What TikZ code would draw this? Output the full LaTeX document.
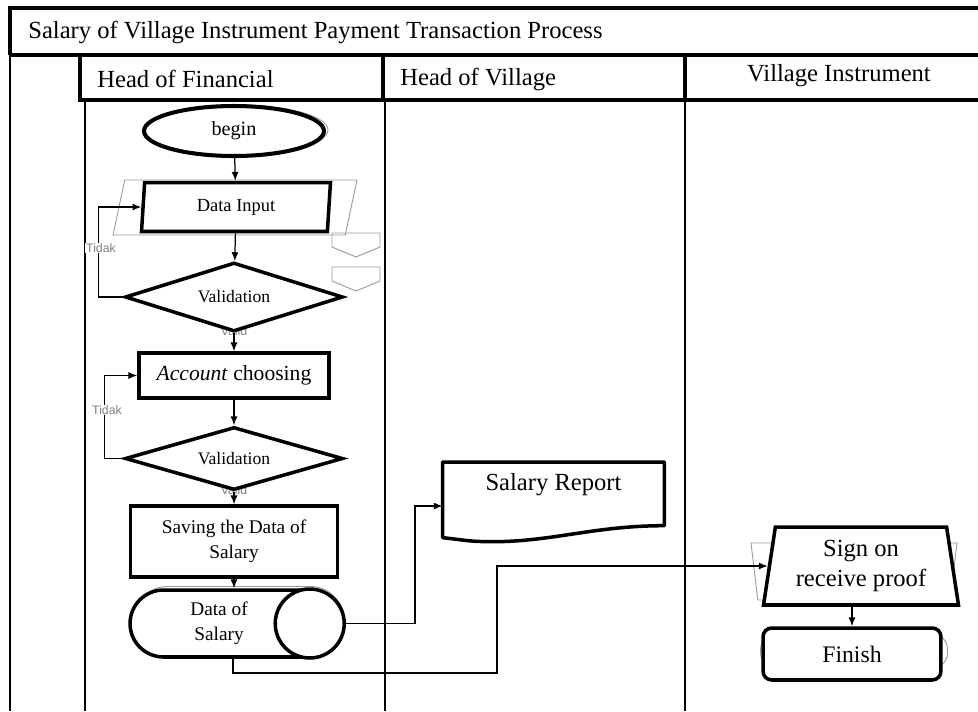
\documentclass[tikz,border=0pt]{standalone}
\usepackage{fontspec}
\setmainfont{Liberation Serif}
\newfontfamily\notefont{Liberation Sans}
\usetikzlibrary{arrows.meta}
\usetikzlibrary{positioning}
\usetikzlibrary{shapes.geometric}
\usetikzlibrary{backgrounds}
\usetikzlibrary{calc}

\begin{document}
\begin{tikzpicture}[x=0.02cm,y=-0.02cm,
  box/.style={draw,line width=2pt,fill=white,inner sep=0pt,align=center},
  ghost/.style={draw=gray!80,line width=0.5pt},
  flow/.style={line width=0.7pt,-{Latex[length=5pt,width=4pt]}},
  lane/.style={line width=0.6pt},
  frame/.style={line width=2.2pt},
  big/.style={font=\fontsize{14}{17}\selectfont},
  mid/.style={font=\fontsize{12.3}{15}\selectfont},
  small/.style={font=\fontsize{11}{14.5}\selectfont},
  note/.style={font=\notefont\fontsize{7}{8}\selectfont,text=gray,inner sep=0.5pt}]
  \clip (0,0) rectangle (978,711);

  % swimlane frame
  \draw[frame] (10,55) -- (10,8) -- (1000,8);
  \draw[frame] (10,55) -- (1000,55);
  \draw[frame] (80,55) -- (80,100) -- (1000,100);
  \draw[frame] (383,55) -- (383,100);
  \draw[frame] (685,55) -- (685,100);
  \draw[lane] (10,55) -- (10,711);
  \draw[lane] (85,100) -- (85,711);
  \draw[lane] (385,100) -- (385,711);
  \draw[lane] (685,100) -- (685,711);

  \node[big,anchor=west,inner sep=0] (title) at (28,32)
    {Salary of Village Instrument Payment Transaction Process};
  \node[big,anchor=west,inner sep=0] (h_fin) at (97,79) {Head of Financial};
  \node[big,anchor=west,inner sep=0] (h_vil) at (400,79) {Head of Village};
  \node[big,inner sep=0] (h_ins) at (839,76) {Village Instrument};

  % Head of Financial
  \node[ghost,ellipse,minimum width=3.6cm,minimum height=1cm] (begin_g) at (238,130) {};
  \node[box,ellipse,line width=2.3pt,minimum width=3.6cm,minimum height=1cm,
      font=\fontsize{11.5}{13}\selectfont] (begin) at (234,131) {begin};

  \node[ghost,trapezium,trapezium left angle=45,trapezium right angle=135,
      trapezium stretches body,minimum width=4.88cm,minimum height=1.1cm] (input_g) at (235,207.5) {};
  \node[box,trapezium,trapezium left angle=79,trapezium right angle=101,
      trapezium stretches body,minimum width=3.78cm,minimum height=0.98cm,
      font=\fontsize{10.5}{12}\selectfont] (input) at (236,207) {Data Input};

  \foreach \y in {233,267}
    \draw[ghost] (332,\y) -- (380,\y) -- (380,\y+14) -- (356,\y+24) -- (332,\y+14) -- cycle;

  \begin{scope}[on background layer]
    \node[note] (valid_1) at (234,331) {Valid};
    \node[note] (valid_2) at (234,490) {Valid};
  \end{scope}

  \node[box,diamond,aspect=3,minimum width=4.36cm,minimum height=1.38cm,
      font=\fontsize{10}{12}\selectfont] (val_1) at (234,297) {Validation};
  \node[box,rectangle,minimum width=3.8cm,minimum height=0.9cm,mid] (acct) at (234,375.5)
    {\textit{Account} choosing};
  \node[box,diamond,aspect=3,minimum width=4.36cm,minimum height=1.26cm,
      font=\fontsize{10}{12}\selectfont] (val_2) at (234,458.5) {Validation};
  \node[box,rectangle,minimum width=4.14cm,minimum height=1.42cm,small] (save) at (234,541.5)
    {Saving the Data of\\Salary};
  \node[ghost,rectangle,rounded corners=0.67cm,minimum width=4.2cm,minimum height=1.34cm] (store_g) at (239,620) {};
  \node[box,rectangle,rounded corners=0.67cm,minimum width=4.26cm,minimum height=1.34cm,small] (store) at (236.5,623.5)
    {Data of\hspace*{0.7cm}\\Salary\hspace*{0.7cm}};
  \node[box,circle,minimum size=1.38cm] (store_end) at ($(store.east)+(-35,0)$) {};

  \path[flow]
    (begin) edge (input)
    (input) edge (val_1)
    (val_1) edge (acct)
    (acct)  edge (val_2)
    (val_2) edge (save);
  \draw[flow] (save.south) -- (save.south |- store.north);

  \draw[flow] (val_1.west) -- ++(-25,0) |- (input.west);
  \draw[flow] (val_2.west) -- ++(-19,0) |- (acct.west);
  \node[note,fill=white] (tidak_1) at (101,248) {Tidak};
  \node[note,fill=white] (tidak_2) at (107,410) {Tidak};

  % Head of Village
  \node[big,minimum width=4.42cm,inner ysep=0pt,text height=0.56cm,text depth=0.7cm,
      anchor=north] (report) at (553.5,462) {Salary Report};
  \draw[line width=2pt,line join=round] ($(report.south west)+(0,12)$) -- (report.north west)
    -- (report.north east) -- (report.south east)
    .. controls +(-70,0) and +(60,0) .. ($(report.south west)+(50,16)$)
    .. controls +(-25,0) and +(20,2) .. ($(report.south west)+(0,12)$) -- cycle;

  % Village Instrument
  \node[ghost,trapezium,shape border rotate=180,trapezium left angle=60,trapezium right angle=60,
      trapezium stretches body,minimum width=4.12cm,minimum height=1.14cm] (sign_g) at (854,571.5) {};
  \node[box,trapezium,trapezium left angle=77,trapezium right angle=77,
      trapezium stretches body,minimum width=3.9cm,minimum height=1.56cm,big] (sign) at (861,566)
    {Sign on\\receive proof};
  \node[ghost,rectangle,rounded corners=9pt,minimum width=3.74cm,minimum height=0.7cm] (fin_g) at (854,651) {};
  \node[box,rectangle,rounded corners=5pt,minimum width=3.56cm,minimum height=1.04cm,
      font=\fontsize{13.5}{16}\selectfont] (fin) at (852,654) {Finish};
  \draw[flow] (sign.south -| fin.north) -- (fin.north);

  % data flows
  \coordinate (bend_a) at (415,506);
  \coordinate (bend_b) at (497,673);
  \draw[flow] (store_end.east) -| (bend_a) -- (bend_a -| report.west);
  \draw[flow] ([xshift=-2pt]store.south) |- (bend_b) |- (sign.west);
\end{tikzpicture}
\end{document}
